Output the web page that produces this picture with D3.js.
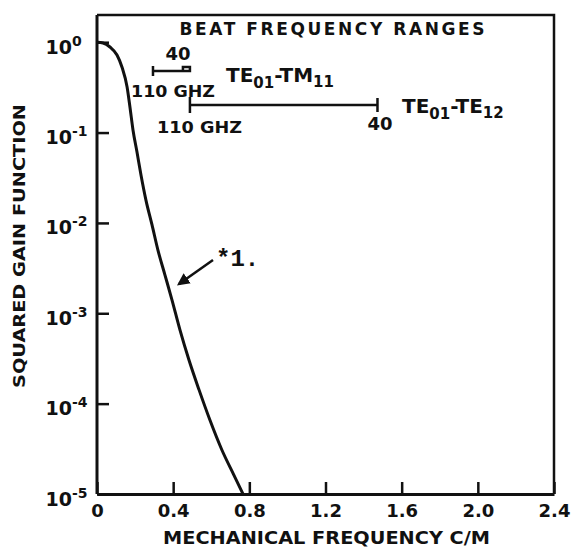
<!DOCTYPE html>
<html lang="en">
	<head>
		<meta charset="utf-8">
		<title>Squared Gain Function</title>
		<script src="https://cdn.jsdelivr.net/npm/d3@7"></script>
		<style type="text/css">
			body { margin: 0px; background: #fff; }
			text {
				font-family: "DejaVu Sans", Helvetica, sans-serif;
				font-weight: bold;
				fill: #111;
			}
			text.mono {
				font-family: "Liberation Mono", "DejaVu Sans Mono", monospace;
				font-weight: bold;
			}
		</style>
	</head>
	<body>
		<div id="chart"></div>
		<script type="text/javascript">
			//Data
			var freq = [0, 0.0315, 0.068, 0.105, 0.131, 0.158, 0.173, 0.189, 0.210, 0.231, 0.257, 0.289, 0.320, 0.357, 0.394, 0.436, 0.483, 0.536, 0.593, 0.656, 0.719, 0.767];
			var gain = [1, 0.98, 0.885, 0.722, 0.532, 0.319, 0.192, 0.107, 0.061, 0.0339, 0.0179, 0.0095, 0.0050, 0.00265, 0.00140, 0.00065, 0.000304, 0.000142, 0.0000659, 0.0000307, 0.0000162, 0.00001];

			var xTicks = [0, 0.4, 0.8, 1.2, 1.6, 2.0, 2.4];
			var xTickLabels = ["0", "0.4", "0.8", "1.2", "1.6", "2.0", "2.4"];
			var yTicks = [1, 1e-1, 1e-2, 1e-3, 1e-4, 1e-5];
			var yTickExp = ["0", "-1", "-2", "-3", "-4", "-5"];

			//Beat frequency ranges (110 GHz end, 40 GHz end) in C/M
			var rangeNames = ["TM11", "TE12"];
			var rangeStart = [0.294, 0.488];
			var rangeEnd = [0.488, 1.473];

			var w = 576;
			var h = 549;
			var margin = {left: 97, right: 22, top: 15, bottom: 55};

			var svg = d3.select("#chart")
				.append("svg")
				.attr("width", w)
				.attr("height", h);

			var x = d3.scaleLinear()
				.domain([0, 2.4])
				.range([margin.left, w - margin.right]);

			var y = d3.scaleLog()
				.domain([1e-5, 2])
				.range([h - margin.bottom, margin.top]);

			//Frame (top and right)
			svg.append("path")
				.attr("d", "M" + x(0) + "," + y(2) + "H" + x(2.4) + "V" + y(1e-5))
				.attr("fill", "none")
				.attr("stroke", "#111")
				.attr("stroke-width", 2.5);

			//X axis, ticks pointing inward
			var xAxis = svg.append("g")
				.attr("transform", "translate(0," + y(1e-5) + ")")
				.call(d3.axisBottom(x)
					.tickValues(xTicks)
					.tickSizeInner(-12)
					.tickSizeOuter(0)
					.tickPadding(10)
					.tickFormat(function(d, i) { return xTickLabels[i]; }));

			xAxis.select(".domain").attr("stroke", "#111").attr("stroke-width", 3);
			xAxis.selectAll(".tick line").attr("stroke", "#111").attr("stroke-width", 2.5);
			xAxis.selectAll(".tick text")
				.style("font-size", "18px")
				.attr("y", 10)
				.attr("dy", "0.71em");

			//Y axis, ticks pointing inward
			var yAxis = svg.append("g")
				.attr("transform", "translate(" + x(0) + ",0)")
				.call(d3.axisLeft(y)
					.tickValues(yTicks)
					.tickSizeInner(-12)
					.tickSizeOuter(0)
					.tickFormat(""));

			yAxis.select(".domain").attr("stroke", "#111").attr("stroke-width", 3)
				.attr("d", "M0," + y(1e-5) + "V" + y(2));
			yAxis.selectAll(".tick line").attr("stroke", "#111").attr("stroke-width", 2.5);

			yAxis.selectAll(".tick")
				.append("text")
				.attr("x", -25)
				.attr("y", 11)
				.attr("text-anchor", "end")
				.style("font-size", "19px")
				.text("10");

			yAxis.selectAll(".tick")
				.append("text")
				.attr("x", -25)
				.attr("y", 3)
				.attr("text-anchor", "start")
				.style("font-size", "14px")
				.text(function(d, i) { return yTickExp[i]; });

			//Curve
			var line = d3.line()
				.x(function(d, i) { return x(freq[i]); })
				.y(function(d) { return y(d); })
				.curve(d3.curveMonotoneX);

			svg.append("path")
				.datum(gain)
				.attr("d", line)
				.attr("fill", "none")
				.attr("stroke", "#111")
				.attr("stroke-width", 3);

			//Axis titles
			svg.append("text")
				.attr("x", (163 + 490) / 2)
				.attr("y", 544)
				.attr("text-anchor", "middle")
				.style("font-size", "17px")
				.attr("textLength", 327)
				.attr("lengthAdjust", "spacingAndGlyphs")
				.text("MECHANICAL FREQUENCY C/M");

			svg.append("text")
				.attr("transform", "translate(25,246) rotate(-90)")
				.attr("text-anchor", "middle")
				.style("font-size", "15px")
				.attr("textLength", 284)
				.attr("lengthAdjust", "spacingAndGlyphs")
				.text("SQUARED GAIN FUNCTION");

			//Beat frequency ranges block
			svg.append("text")
				.attr("x", 332)
				.attr("y", 35)
				.attr("text-anchor", "middle")
				.style("font-size", "17px")
				.attr("textLength", 305)
				.attr("lengthAdjust", "spacing")
				.text("BEAT FREQUENCY RANGES");

			var barY = [71, 105];

			//short range bar with hooked end
			svg.append("path")
				.attr("d", "M" + x(rangeStart[0]) + "," + (barY[0] - 5) + "V" + (barY[0] + 5) +
					"M" + x(rangeStart[0]) + "," + barY[0] + "H" + x(rangeEnd[0]) +
					"V" + (barY[0] - 4) + "H" + (x(rangeEnd[0]) - 7) + "V" + barY[0])
				.attr("fill", "none")
				.attr("stroke", "#111")
				.attr("stroke-width", 2.5);

			//long range bar
			svg.append("path")
				.attr("d", "M" + x(rangeStart[1]) + "," + (barY[1] - 8) + "V" + (barY[1] + 8) +
					"M" + x(rangeStart[1]) + "," + barY[1] + "H" + x(rangeEnd[1]) +
					"M" + x(rangeEnd[1]) + "," + (barY[1] - 7) + "V" + (barY[1] + 7))
				.attr("fill", "none")
				.attr("stroke", "#111")
				.attr("stroke-width", 2.5);

			//end labels
			svg.append("text").attr("x", 178).attr("y", 60)
				.attr("text-anchor", "middle").style("font-size", "18px").text("40");
			svg.append("text").attr("x", 131).attr("y", 97)
				.style("font-size", "15px").attr("textLength", 84)
				.attr("lengthAdjust", "spacingAndGlyphs").text("110 GHZ");
			svg.append("text").attr("x", 157).attr("y", 133)
				.style("font-size", "15px").attr("textLength", 85)
				.attr("lengthAdjust", "spacingAndGlyphs").text("110 GHZ");
			svg.append("text").attr("x", 380).attr("y", 130)
				.attr("text-anchor", "middle").style("font-size", "18px").text("40");

			//mode labels
			function modeLabel(x0, y0, name) {
				var t = svg.append("text").attr("x", x0).attr("y", y0).style("font-size", "20px");
				t.append("tspan").text("TE");
				t.append("tspan").attr("dy", 6).style("font-size", "15px").text("01");
				t.append("tspan").attr("dy", -6).text("-" + name.slice(0, 2));
				t.append("tspan").attr("dy", 5).style("font-size", "15px").text(name.slice(2));
			}
			modeLabel(226, 82, rangeNames[0]);
			modeLabel(402, 113, rangeNames[1]);

			//curve annotation
			svg.append("defs").append("marker")
				.attr("id", "head")
				.attr("viewBox", "0 0 10 10")
				.attr("refX", 8).attr("refY", 5)
				.attr("markerWidth", 5).attr("markerHeight", 5)
				.attr("markerUnits", "strokeWidth")
				.attr("orient", "auto")
				.append("path")
				.attr("d", "M0,0L10,5L0,10z")
				.attr("fill", "#111");

			svg.append("line")
				.attr("x1", 213).attr("y1", 260)
				.attr("x2", 179).attr("y2", 284)
				.attr("stroke", "#111")
				.attr("stroke-width", 2.5)
				.attr("marker-end", "url(#head)");

			svg.append("text")
				.attr("class", "mono")
				.attr("x", 216).attr("y", 266)
				.style("font-size", "24px")
				.text("*1.");
		</script>
	</body>
</html>
